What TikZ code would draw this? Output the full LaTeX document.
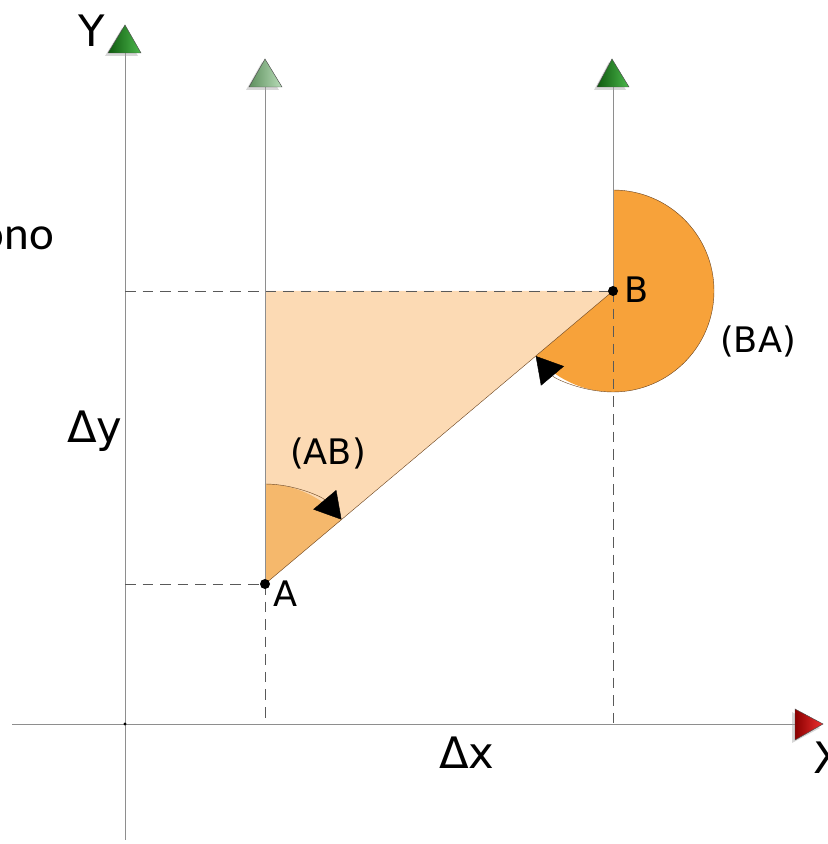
\documentclass[tikz,border=0pt]{standalone}
\usepackage{fontspec}
\setmainfont{DejaVu Sans}
\newfontfamily\cutfont{Carlito}
\usetikzlibrary{arrows.meta, calc}
\definecolor{axgrey}{HTML}{8E8E8E}
\definecolor{trifill}{HTML}{FCDAB4}
\definecolor{angab}{HTML}{F5B86C}
\definecolor{angba}{HTML}{F7A23A}
\definecolor{sectline}{HTML}{6B4420}
\definecolor{ydark}{HTML}{0F5A0F}
\definecolor{ylight}{HTML}{4CB84C}
\definecolor{mdark}{HTML}{5E8F5E}
\definecolor{mlight}{HTML}{B8DDB8}
\definecolor{xdark}{HTML}{8A0000}
\definecolor{xlight}{HTML}{F03030}

\begin{document}
\begin{tikzpicture}[x=0.3mm, y=0.3mm,
  axis/.style={draw=axgrey, line width=0.6pt},
  guide/.style={draw=black!65, line width=0.5pt, dash pattern=on 9pt off 6pt},
  sector/.style={draw=sectline, line width=0.35pt},
  turn/.style={sector, -{Triangle[length=7.8mm, width=9mm, black]}},
  tip/.style={draw=black!70, line width=0.4pt},
  shadow/.style={fill=black!35, opacity=0.45},
  lbl/.style={inner sep=0pt, font=\fontsize{30}{34}\selectfont},
  big/.style={inner sep=0pt, font=\fontsize{37}{40}\selectfont}
]
  \useasboundingbox (0,0) rectangle (828,844);

  % points
  \coordinate (O) at (125,120);
  \coordinate (A) at (265,260);
  \coordinate (B) at (613,553);
  \coordinate (Ax) at (265,120);
  \coordinate (Bx) at (613,120);
  \coordinate (Ay) at (125,260);
  \coordinate (By) at (125,553);
  \coordinate (C) at (265,553);

  % triangle
  \fill[trifill] (A) -- (C) -- (B) -- cycle;

  % azimuth sectors
  \fill[angab] (A) -- ++(90:100) arc[start angle=90, end angle=40.1, radius=100] -- cycle;
  \fill[angba] (B) -- ++(90:101) arc[start angle=90, end angle=-139.9, radius=101] -- cycle;
  \draw[turn] ($(A)+(90:100)$) arc[start angle=90, end angle=40.1, radius=100];
  \draw[turn] ($(B)+(90:101)$) arc[start angle=90, end angle=-139.9, radius=101];

  % axes
  \draw[axis] (125,4) -- (125,791);
  \draw[axis] (12,120) -- (795,120);
  \draw[axis] (A) -- (265,757);
  \draw[axis] (B) -- (613,757);
  \draw[sector] (A) -- (B);

  % guides
  \draw[guide] (Ay) -- (A);
  \draw[guide] (A) -- (Ax);
  \draw[guide] (By) -- (B);
  \draw[guide] (B) -- (Bx);

  % arrow heads of the axes
  \fill[shadow] (105,788) -- (122,816) -- (138,788) -- cycle;
  \shade[tip, left color=ydark, right color=ylight] (108,791) -- (125,819) -- (141,791) -- cycle;
  \fill[shadow] (246,754) -- (262,782) -- (279,754) -- cycle;
  \shade[tip, left color=mdark, right color=mlight] (249,757) -- (265,785) -- (282,757) -- cycle;
  \fill[shadow] (594,754) -- (609,782) -- (626,754) -- cycle;
  \shade[tip, left color=ydark, right color=ylight] (597,757) -- (612,785) -- (629,757) -- cycle;
  \fill[shadow] (792,101) -- (820,116) -- (792,132) -- cycle;
  \shade[tip, left color=xdark, right color=xlight] (795,104) -- (823,120) -- (795,135) -- cycle;

  % dots
  \fill (O) circle (1.6);
  \fill (A) circle (5);
  \fill (B) circle (5);

  % labels
  \node[big, anchor=base west] (ylab) at (78,797) {Y};
  \node[big, anchor=base west] (xlab) at (813,70) {X};
  \node[big, anchor=base west] (dy) at (67,401) {Δy};
  \node[big, anchor=base west] (dx) at (439,75) {Δx};
  \node[lbl, anchor=base west] (ab) at (290,379) {(AB)};
  \node[lbl, anchor=base west] (ba) at (720,491) {(BA)};
  \node[lbl, anchor=base west] (alab) at (273,237) {A};
  \node[lbl, anchor=base west] (blab) at (624,541) {B};
  \node[inner sep=0pt, anchor=base east, font=\cutfont\fontsize{40}{44}\selectfont] (cut) at (54,594) {ono};

\end{tikzpicture}
\end{document}
